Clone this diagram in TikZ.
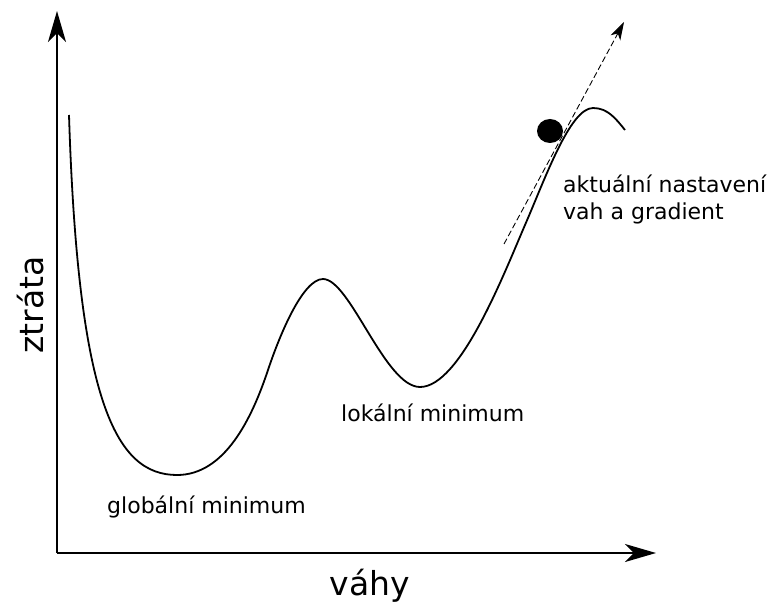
\documentclass[tikz,border=0pt]{standalone}
\usepackage{fontspec}
\setmainfont{DejaVu Sans}
\usetikzlibrary{arrows.meta,shapes.geometric}
\begin{document}
\begin{tikzpicture}[x=1pt,y=-1pt,
  axisline/.style={line width=2pt,-{Stealth[length=31pt,width=18pt,inset=9pt]}},
  lossline/.style={line width=1.8pt,line join=round},
  gradline/.style={line width=0.9pt,dash pattern=on 6pt off 3pt,-{Stealth[length=18pt,width=11pt,inset=5pt]}},
  smalltxt/.style={font=\fontsize{22}{26}\selectfont,inner sep=0pt,anchor=base west,align=left},
  bigtxt/.style={font=\fontsize{33}{38}\selectfont,inner sep=0pt}]
\useasboundingbox (0,0) rectangle (771,604);
\coordinate (origin) at (57,553);
\coordinate (ytip) at (57,11);
\coordinate (xtip) at (656,553);
\draw[axisline] (origin) -- (ytip);
\draw[axisline] (origin) -- (xtip);
\coordinate (c0) at (69,115);
\coordinate (m1) at (177,475);
\coordinate (i1) at (268,370);
\coordinate (p1) at (323,279);
\coordinate (m2) at (420,387);
\coordinate (i3) at (525,225);
\coordinate (p2) at (593,108);
\coordinate (c9) at (625,130);
\draw[lossline] (c0) .. controls (78,400) and (115,475) .. (m1)
  .. controls (225,475) and (252,418) .. (i1)
  .. controls (280,334) and (303,279) .. (p1)
  .. controls (350,279) and (385,387) .. (m2)
  .. controls (460,387) and (503,276) .. (i3)
  .. controls (545,179) and (570,108) .. (p2)
  .. controls (608,108) and (616,119) .. (c9);
\coordinate (gstart) at (504,244);
\coordinate (gend) at (624,22);
\draw[gradline] (gstart) -- (gend);
\node[fill=black,ellipse,minimum width=26pt,minimum height=24pt,inner sep=0pt] (ball) at (550,131) {};
\node[smalltxt] (glob) at (107,513) {globální minimum};
\node[smalltxt] (lok) at (341,421) {lokální minimum};
\node[smalltxt] (akt) at (563,219) {aktuální nastavení\\vah a gradient};
\node[bigtxt,anchor=base] (vahy) at (370,595) {váhy};
\node[bigtxt,anchor=base,rotate=90] (ztrata) at (43,305) {ztráta};
\end{tikzpicture}
\end{document}
